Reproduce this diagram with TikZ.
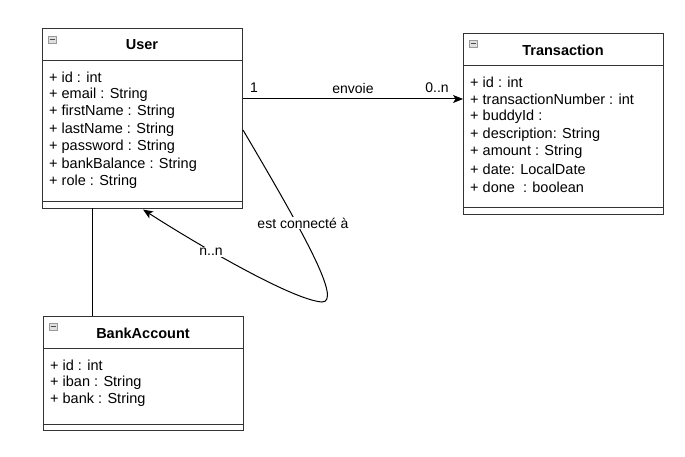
\documentclass[tikz,border=0pt]{standalone}
\usepackage{fontspec}
\setmainfont{Liberation Sans}
\usetikzlibrary{arrows.meta}
\definecolor{boxline}{HTML}{333333}
\tikzset{
  umlbox/.style={draw=boxline, line width=1pt, rectangle, anchor=north west, inner sep=0pt, fill=white},
  sepline/.style={draw=boxline, line width=1pt},
  title/.style={font=\bfseries\fontsize{14.5}{16}\selectfont, anchor=center, inner sep=0pt},
  attr/.style={font=\fontsize{14.5}{16}\selectfont, anchor=west, inner sep=0pt},
  lbl/.style={font=\fontsize{14}{16}\selectfont, inner sep=1pt, fill=white},
  mult/.style={font=\fontsize{14}{16}\selectfont, inner sep=0pt},
  conn/.style={draw=black, line width=1pt},
  arr/.style={-{Stealth[length=10pt,width=8pt,inset=2.5pt]}},
  icon/.style={draw=gray!80, fill=gray!25, line width=0.5pt, minimum width=8pt, minimum height=7pt, inner sep=0pt, anchor=north west}
}
\begin{document}
\begin{tikzpicture}[x=1pt,y=-1pt]
\useasboundingbox[fill=white] (0,0) rectangle (685,457);

% ---- User ----
\node[umlbox, minimum width=200pt, minimum height=180pt] (user) at (42,28) {};
\draw[sepline] (42,60.5) -- (242,60.5);
\draw[sepline] (42,202) -- (242,202);
\node[icon] (ui) at (48,36) {};
\draw[line width=1pt, black!70] (49.5,39.5) -- (54.5,39.5);
\node[title] (ut) at (142,45) {User};
\node[attr] (u1) at (49,77) {+ id : int};
\node[attr] (u2) at (49,94.5) {+ email : String};
\node[attr] (u3) at (49,112) {+ firstName : String};
\node[attr] (u4) at (49,129.5) {+ lastName : String};
\node[attr] (u5) at (49,147) {+ password : String};
\node[attr] (u6) at (49,164.5) {+ bankBalance : String};
\node[attr] (u7) at (49,182) {+ role : String};

% ---- Transaction ----
\node[umlbox, minimum width=200pt, minimum height=181pt] (tr) at (463,33) {};
\draw[sepline] (463,66) -- (663,66);
\draw[sepline] (463,208) -- (663,208);
\node[icon] (ti) at (469,40) {};
\draw[line width=1pt, black!70] (470.5,43.5) -- (475.5,43.5);
\node[title] (tt) at (563,50) {Transaction};
\node[attr] (t1) at (470,82) {+ id : int};
\node[attr] (t2) at (470,99.5) {+ transactionNumber : int};
\node[attr] (t3) at (470,117) {+ buddyId :};
\node[attr] (t4) at (470,134.5) {+ description: String};
\node[attr] (t5) at (470,152) {+ amount : String};
\node[attr] (t6) at (470,169.5) {+ date: LocalDate};
\node[attr] (t7) at (470,187) {+ done\ \ : boolean};

% ---- BankAccount ----
\node[umlbox, minimum width=200pt, minimum height=114pt] (ba) at (43,316) {};
\draw[sepline] (43,348) -- (243,348);
\draw[sepline] (43,424) -- (243,424);
\node[icon] (bi) at (49,323) {};
\draw[line width=1pt, black!70] (50.5,326.5) -- (55.5,326.5);
\node[title] (bt) at (143,333) {BankAccount};
\node[attr] (b1) at (50,365) {+ id : int};
\node[attr] (b2) at (50,382.5) {+ iban : String};
\node[attr] (b3) at (50,400) {+ bank : String};

% ---- connectors ----
\draw[conn, arr] (user.east |- 0,99) -- (tr.west |- 0,99);
\node[mult] (m1) at (254,88) {1};
\node[mult] (env) at (353,88) {envoie};
\node[mult] (m2) at (437,88) {0..n};

\draw[conn] (user.north |- 0,208) ++(-50,0) coordinate (ub) -- (ub |- ba.north);

\coordinate (lp) at (322,302);
\draw[conn, arr] (user.east |- 0,130) .. controls (305,235) and (342,302) .. (lp)
  .. controls (292,300) and (195,243) .. (143,209.5);
\node[lbl] (ec) at (303,223) {est connecté à};
\node[lbl] (nn) at (211,252) {n..n};
\end{tikzpicture}
\end{document}
